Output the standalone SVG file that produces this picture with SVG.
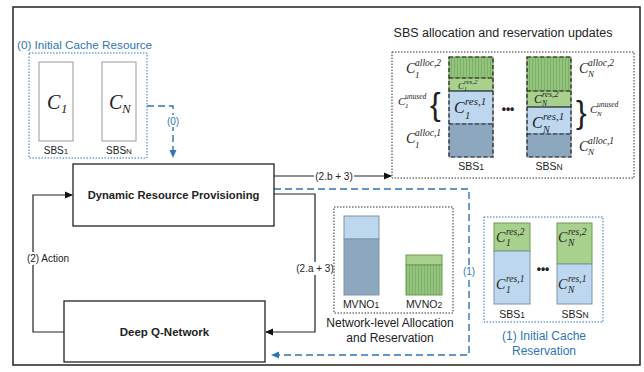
<svg xmlns="http://www.w3.org/2000/svg" width="644" height="372" viewBox="0 0 644 372">
<style>
.t{font-family:"Liberation Sans",Arial,sans-serif;fill:#222}
.b{font-weight:bold}
.blue{fill:#2E75B6}
.m{font-family:"Liberation Serif","DejaVu Serif",serif;font-style:italic;fill:#222}
.box{fill:#fff;stroke:#222;stroke-width:1.3}
.dotk{fill:none;stroke:#333;stroke-width:1;stroke-dasharray:1.5 1.5}
.dotb{fill:none;stroke:#2E75B6;stroke-width:1;stroke-dasharray:1.5 1.5}
.ln{fill:none;stroke:#222;stroke-width:1.2}
.bd{fill:none;stroke:#2E75B6;stroke-width:1.4;stroke-dasharray:7 4}
.lb{fill:#BDD7EE;stroke:#7f93a8;stroke-width:1}
.db{fill:url(#hb);stroke:#7f93a8;stroke-width:1}
.lg{fill:#A9D18E;stroke:#6f9a52;stroke-width:1}
.hg{fill:url(#hg);stroke:#6f9a52;stroke-width:1}
.cell{fill:#fff;stroke:#999;stroke-width:1}
.sep{stroke:#222;stroke-width:1.2;stroke-dasharray:4 2.5}
.sol{stroke:#222;stroke-width:1}
</style>
<defs>
<pattern id="hg" width="3" height="4" patternUnits="userSpaceOnUse">
<rect width="3" height="4" fill="#93C47D"/>
<line x1="1.5" y1="0" x2="1.5" y2="4" stroke="#7aab62" stroke-width="0.8"/>
</pattern>
<pattern id="hb" width="3" height="3" patternUnits="userSpaceOnUse">
<rect width="3" height="3" fill="#8FA9C1"/>
<line x1="0" y1="3" x2="3" y2="0" stroke="#849eb6" stroke-width="0.6"/>
</pattern>
<marker id="ak" markerWidth="8" markerHeight="8" refX="7" refY="4" orient="auto" markerUnits="userSpaceOnUse">
<path d="M0,0.5 L8,4 L0,7.5 Z" fill="#111"/>
</marker>
<marker id="ab" markerWidth="8" markerHeight="8" refX="7" refY="4" orient="auto" markerUnits="userSpaceOnUse">
<path d="M0,0.5 L8,4 L0,7.5 Z" fill="#2E75B6"/>
</marker>
</defs>

<rect x="13" y="7" width="627" height="358" fill="#fff" stroke="#222" stroke-width="1.5"/>

<g id="connectors">
<path class="bd" d="M147,106 H173 V157" marker-end="url(#ab)"/>
<path class="ln" d="M64,332 H33 V195 H72" marker-end="url(#ak)"/>
<path class="ln" d="M274,194 H315 V332 H266" marker-end="url(#ak)"/>
<path class="ln" d="M274,176 H391" marker-end="url(#ak)"/>
<path class="bd" d="M274,189 H469 V355 H272" marker-end="url(#ab)"/>
<rect x="166" y="115" width="14" height="12" fill="#fff"/>
<text class="t blue" x="173" y="125" font-size="10" text-anchor="middle">(0)</text>
<rect x="25" y="252" width="46" height="13" fill="#fff"/>
<text class="t" x="48" y="262" font-size="10" text-anchor="middle">(2) Action</text>
<rect x="296" y="262" width="38" height="13" fill="#fff"/>
<text class="t" x="315" y="272" font-size="10" text-anchor="middle">(2.a + 3)</text>
<rect x="314" y="170" width="40" height="13" fill="#fff"/>
<text class="t" x="334" y="180" font-size="10" text-anchor="middle">(2.b + 3)</text>
<rect x="462" y="265" width="14" height="13" fill="#fff"/>
<text class="t blue" x="469" y="275" font-size="10" text-anchor="middle">(1)</text>
</g>

<g id="drp">
<rect class="box" x="73" y="164" width="201" height="62"/>
<text class="t b" x="173.5" y="199" font-size="11.2" text-anchor="middle">Dynamic Resource Provisioning</text>
</g>

<g id="dqn">
<rect class="box" x="64" y="301" width="201" height="61"/>
<text class="t b" x="164.5" y="336" font-size="11.5" text-anchor="middle">Deep Q-Network</text>
</g>

<g id="initial-cache-resource">
<text class="t blue" x="17" y="49" font-size="11.7">(0) Initial Cache Resource</text>
<rect class="dotb" x="29" y="53" width="118" height="105"/>
<rect class="cell" x="39" y="62" width="34" height="79"/>
<rect class="cell" x="102" y="62" width="34" height="79"/>
<text class="m" x="47" y="109" font-size="20">C</text>
<text class="m" x="61" y="113" font-size="13" font-style="normal">1</text>
<text class="m" x="109" y="109" font-size="20">C</text>
<text class="m" x="122" y="113" font-size="13">N</text>
<text class="t" x="56" y="154" font-size="10" text-anchor="middle">SBS<tspan font-size="8">1</tspan></text>
<text class="t" x="119" y="154" font-size="10" text-anchor="middle">SBS<tspan font-size="8">N</tspan></text>
</g>

<g id="sbs-updates">
<text class="t" x="503" y="37" font-size="12.5" text-anchor="middle">SBS allocation and reservation updates</text>
<rect class="dotk" x="392" y="52" width="242" height="126"/>
<!-- SBS1 bar -->
<rect class="hg" x="449" y="57" width="44" height="21"/>
<rect class="lg" x="449" y="78" width="44" height="13"/>
<rect class="lb" x="449" y="91" width="44" height="33"/>
<rect class="db" x="449" y="124" width="44" height="33"/>
<line class="sep" x1="449" y1="78" x2="493" y2="78"/>
<line class="sol" x1="449" y1="91" x2="493" y2="91"/>
<line class="sep" x1="449" y1="124" x2="493" y2="124"/>
<rect x="449" y="57" width="44" height="100" fill="none" stroke="#222" stroke-width="1.2" stroke-dasharray="4 2.5"/>
<!-- SBSN bar -->
<rect class="hg" x="527" y="57" width="44" height="34"/>
<rect class="lg" x="527" y="91" width="44" height="16"/>
<rect class="lb" x="527" y="107" width="44" height="27"/>
<rect class="db" x="527" y="134" width="44" height="23"/>
<line class="sep" x1="527" y1="91" x2="571" y2="91"/>
<line class="sol" x1="527" y1="107" x2="571" y2="107"/>
<line class="sep" x1="527" y1="134" x2="571" y2="134"/>
<rect x="527" y="57" width="44" height="100" fill="none" stroke="#222" stroke-width="1.2" stroke-dasharray="4 2.5"/>
<text class="t" x="508" y="113" font-size="12" text-anchor="middle" font-weight="bold">•••</text>
<text class="t" x="471" y="170" font-size="10.5" text-anchor="middle">SBS<tspan font-size="8.5">1</tspan></text>
<text class="t" x="549" y="170" font-size="10.5" text-anchor="middle">SBS<tspan font-size="8.5">N</tspan></text>
<!-- left labels -->
<text class="m" x="406" y="73" font-size="14">C</text>
<text class="m" x="415" y="66" font-size="9.5">alloc,2</text>
<text class="m" x="415" y="78" font-size="9" font-style="normal">1</text>
<text class="m" x="398" y="105" font-size="11">C</text>
<text class="m" x="405" y="99" font-size="7.5">unused</text>
<text class="m" x="405" y="108" font-size="7" font-style="normal">1</text>
<text class="t" x="430" y="115" font-size="32" font-family="Liberation Serif,serif">{</text>
<text class="m" x="406" y="143" font-size="14">C</text>
<text class="m" x="415" y="136" font-size="9.5">alloc,1</text>
<text class="m" x="415" y="148" font-size="9" font-style="normal">1</text>
<!-- inside SBS1 -->
<text class="m" x="458" y="89" font-size="9">C</text>
<text class="m" x="464" y="84" font-size="7">res,2</text>
<text class="m" x="464" y="91" font-size="6" font-style="normal">1</text>
<text class="m" x="454" y="113" font-size="16">C</text>
<text class="m" x="465" y="105" font-size="11">res,1</text>
<text class="m" x="465" y="119" font-size="10.5" font-style="normal">1</text>
<!-- inside SBSN -->
<text class="m" x="534" y="103" font-size="12">C</text>
<text class="m" x="542" y="97" font-size="8.5">res,2</text>
<text class="m" x="542" y="106" font-size="7.5">N</text>
<text class="m" x="532" y="128" font-size="16">C</text>
<text class="m" x="543" y="120" font-size="11">res,1</text>
<text class="m" x="543" y="133" font-size="10">N</text>
<!-- right labels -->
<text class="m" x="579" y="73" font-size="14">C</text>
<text class="m" x="588" y="66" font-size="9.5">alloc,2</text>
<text class="m" x="588" y="77" font-size="9">N</text>
<text class="t" x="576" y="123" font-size="32" font-family="Liberation Serif,serif">}</text>
<text class="m" x="590" y="113" font-size="11">C</text>
<text class="m" x="597" y="107" font-size="7.5">unused</text>
<text class="m" x="597" y="116" font-size="7">N</text>
<text class="m" x="579" y="151" font-size="14">C</text>
<text class="m" x="588" y="144" font-size="9.5">alloc,1</text>
<text class="m" x="588" y="155" font-size="9">N</text>
</g>

<g id="network-level">
<rect class="dotk" x="334" y="207" width="119" height="106"/>
<rect class="lb" x="344" y="216" width="35" height="23"/>
<rect class="db" x="344" y="239" width="35" height="56"/>
<rect class="lg" x="406" y="255" width="36" height="10"/>
<rect class="hg" x="406" y="265" width="36" height="30"/>
<text class="t" x="361" y="308" font-size="10.5" text-anchor="middle">MVNO<tspan font-size="8.5">1</tspan></text>
<text class="t" x="424" y="308" font-size="10.5" text-anchor="middle">MVNO<tspan font-size="8.5">2</tspan></text>
<text class="t" x="390" y="327" font-size="12" text-anchor="middle">Network-level Allocation</text>
<text class="t" x="390" y="342" font-size="12" text-anchor="middle">and Reservation</text>
</g>

<g id="initial-cache-reservation">
<rect class="dotb" x="484" y="217" width="119" height="105"/>
<rect class="lg" x="494" y="223" width="36" height="28"/>
<rect class="lb" x="494" y="251" width="36" height="53"/>
<rect class="lg" x="557" y="223" width="35" height="41"/>
<rect class="lb" x="557" y="264" width="35" height="40"/>
<text class="m" x="496" y="242" font-size="14">C</text>
<text class="m" x="506" y="235" font-size="9.5">res,2</text>
<text class="m" x="506" y="246" font-size="9.5" font-style="normal">1</text>
<text class="m" x="496" y="289" font-size="14">C</text>
<text class="m" x="506" y="282" font-size="9.5">res,1</text>
<text class="m" x="506" y="293" font-size="9.5" font-style="normal">1</text>
<text class="m" x="558" y="242" font-size="14">C</text>
<text class="m" x="568" y="235" font-size="9.5">res,2</text>
<text class="m" x="568" y="246" font-size="9.5">N</text>
<text class="m" x="558" y="289" font-size="14">C</text>
<text class="m" x="568" y="282" font-size="9.5">res,1</text>
<text class="m" x="568" y="293" font-size="9.5">N</text>
<text class="t" x="543" y="273" font-size="12" text-anchor="middle" font-weight="bold">•••</text>
<text class="t" x="512" y="318" font-size="10.5" text-anchor="middle">SBS<tspan font-size="8.5">1</tspan></text>
<text class="t" x="575" y="318" font-size="10.5" text-anchor="middle">SBS<tspan font-size="8.5">N</tspan></text>
<text class="t blue" x="544" y="340" font-size="12" text-anchor="middle">(1) Initial Cache</text>
<text class="t blue" x="544" y="355" font-size="12" text-anchor="middle">Reservation</text>
</g>
</svg>
